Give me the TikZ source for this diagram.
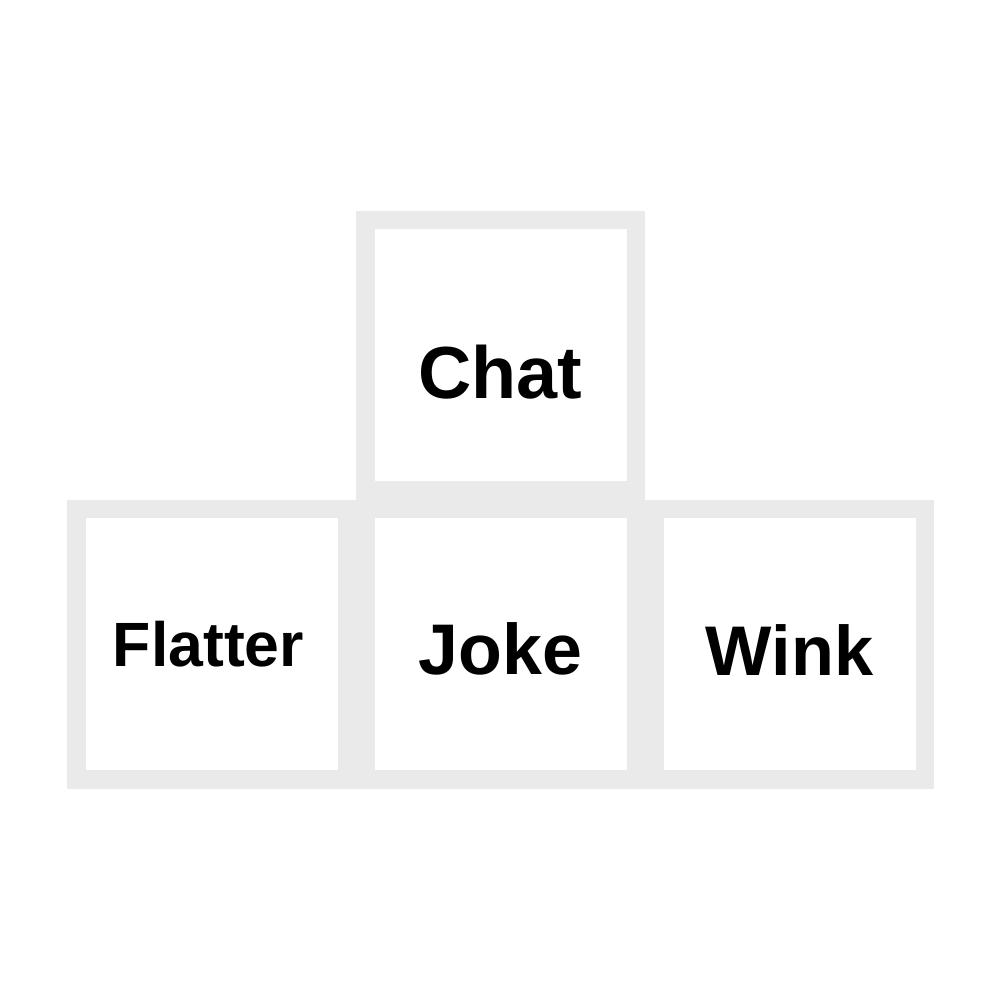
\documentclass[tikz,border=0pt]{standalone}
\usepackage{fontspec}
\setmainfont{Liberation Sans}
\usetikzlibrary{positioning}
\definecolor{keygray}{RGB}{234,234,234}
\tikzset{
  keybox/.style={draw=keygray,line width=0.185cm,fill=white,minimum size=2.705cm,inner sep=0pt},
  keytext/.style={font=\bfseries\fontsize{#1}{#1}\selectfont,inner sep=0pt}
}

\begin{document}
\begin{tikzpicture}
  \useasboundingbox (0,0) rectangle (10,10);
  % top row
  \node[keybox] (chat) at (5.005,6.445) {};
  % bottom row
  \node[keybox,below=0pt of chat] (joke) {};
  \node[keybox,left=0pt of joke] (flatter) {};
  \node[keybox,right=0pt of joke] (wink) {};
  % labels
  \node[keytext=21pt] (chattext) at ([yshift=-0.17cm]chat.center) {Chat};
  \node[keytext=17.8pt] (flattertext) at ([xshift=-0.03cm]flatter.center) {Flatter};
  \node[keytext=20.4pt] (joketext) at ([yshift=-0.04cm]joke.center) {Joke};
  \node[keytext=20pt] (winktext) at ([yshift=-0.06cm]wink.center) {Wink};
\end{tikzpicture}
\end{document}
